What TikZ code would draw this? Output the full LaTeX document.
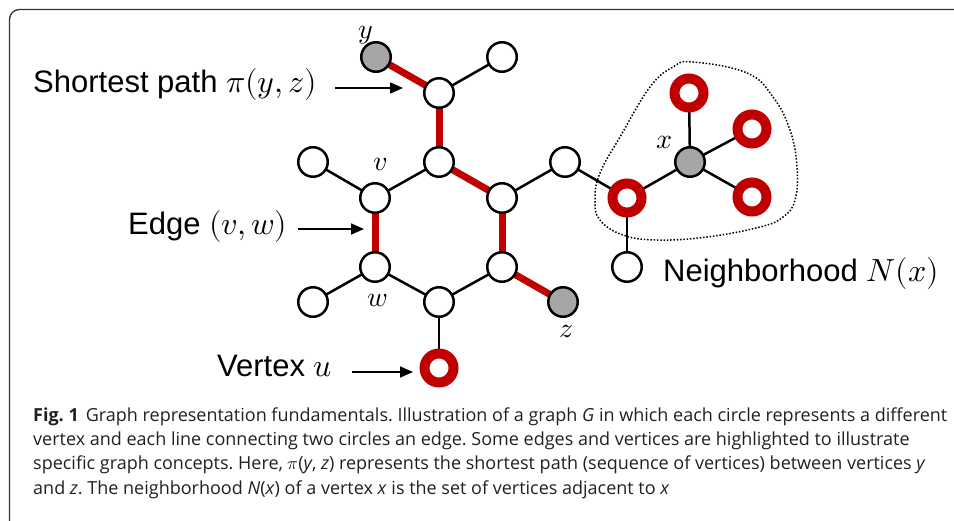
\documentclass[tikz,border=0pt]{standalone}
\usepackage{fontspec}
\usepackage{unicode-math}
\setmainfont{Liberation Sans}
\setmathfont{Latin Modern Math}
\newfontfamily\capfont{Open Sans}
\usetikzlibrary{arrows.meta,backgrounds}
\definecolor{hired}{HTML}{C00000}
\definecolor{vgray}{HTML}{A6A6A6}
\definecolor{captxt}{HTML}{231F20}
\frenchspacing
\begin{document}
\begin{tikzpicture}[x=1pt,y=-1pt,
 wnode/.style={circle,draw=black,fill=white,line width=2.5pt,minimum size=29.5pt,inner sep=0pt},
 gnode/.style={wnode,fill=vgray},
 rnode/.style={circle,draw=hired,fill=white,line width=10pt,minimum size=29pt,inner sep=0pt},
 bedge/.style={line width=2.5pt,black},
 redge/.style={line width=7pt,hired},
 mlab/.style={font=\fontsize{28}{30}\selectfont,inner sep=0pt},
 bigtxt/.style={font=\fontsize{31}{36}\selectfont,inner sep=0pt,anchor=base west},
 ptr/.style={line width=1.6pt,-{Triangle[length=13pt,width=11pt]}},
 capline/.style={font=\capfont\fontsize{18}{22}\selectfont,text=captxt,inner sep=0pt,anchor=base west}
]
\useasboundingbox (0,0) rectangle (954,521);
% frame
\draw[line width=1.3pt,black!80,rounded corners=10pt] (9.5,521) -- (9.5,9.5) -- (954,9.5);

% vertices
\node[gnode] (y) at (376,57) {};
\node[wnode] (a1) at (439,93) {};
\node[wnode] (t3) at (502,57) {};
\node[wnode] (a2) at (439,162) {};
\node[wnode] (v) at (375,198) {};
\node[wnode] (h1) at (502,198) {};
\node[wnode] (w) at (375,267) {};
\node[wnode] (h2) at (502,267) {};
\node[wnode] (bt) at (439,302) {};
\node[wnode] (o1) at (313,162) {};
\node[wnode] (o2) at (313,302) {};
\node[gnode] (z) at (563,302) {};
\node[rnode] (u) at (439,368) {};
\node[wnode] (ro) at (565,162) {};
\node[rnode] (n1) at (627,198) {};
\node[wnode] (bw) at (627,267) {};
\node[gnode] (x) at (690,162) {};
\node[rnode] (n2) at (689,93) {};
\node[rnode] (n3) at (752,129) {};
\node[rnode] (n4) at (752,197) {};

% edges
\begin{pgfonlayer}{background}
\draw[bedge] (a1.center) -- (t3.center);
\draw[bedge] (a2.center) -- (v.center);
\draw[bedge] (v.center) -- (o1.center);
\draw[bedge] (w.center) -- (o2.center);
\draw[bedge] (w.center) -- (bt.center);
\draw[bedge] (bt.center) -- (u.center);
\draw[bedge] (bt.center) -- (h2.center);
\draw[bedge] (h1.center) -- (ro.center);
\draw[bedge] (ro.center) -- (n1.center);
\draw[bedge] (n1.center) -- (x.center);
\draw[bedge] (n1.center) -- (bw.center);
\draw[bedge] (x.center) -- (n2.center);
\draw[bedge] (x.center) -- (n3.center);
\draw[bedge] (x.center) -- (n4.center);
\draw[redge] (y.center) -- (a1.center);
\draw[redge] (a1.center) -- (a2.center);
\draw[redge] (a2.center) -- (h1.center);
\draw[redge] (h1.center) -- (h2.center);
\draw[redge] (h2.center) -- (z.center);
\draw[redge] (v.center) -- (w.center);
\end{pgfonlayer}

% neighborhood outline
\draw[line width=1.5pt,dash pattern=on 1.5pt off 1.8pt] plot[smooth cycle,tension=0.7] coordinates {
 (693,62) (747,73) (773,97) (790,130) (797,167) (795,200) (783,217) (760,227)
 (707,237) (657,240) (623,235) (600,220) (595,200) (600,173) (620,137) (650,87) (673,67)};

% vertex labels
\node[mlab] (ly) at (366,35) {$y$};
\node[mlab] (lv) at (380,164) {$v$};
\node[mlab] (lw) at (378,300) {$w$};
\node[mlab] (lz) at (566,331) {$z$};
\node[mlab] (lx) at (665,142) {$x$};

% pointer labels
\node[bigtxt] (sp) at (33,93) {Shortest path {\fontsize{32}{36}\selectfont$\pi(y,z)$}};
\coordinate (sps) at (335,88);
\coordinate (spe) at (403,88);
\draw[ptr] (sps) -- (spe);

\node[bigtxt] (ed) at (128,235) {Edge {\fontsize{32}{36}\selectfont$(v,w)$}};
\coordinate (eds) at (298,229);
\coordinate (ede) at (364,229);
\draw[ptr] (eds) -- (ede);

\node[bigtxt] (vx) at (217,377) {Vertex {\fontsize{32}{36}\selectfont$u$}};
\coordinate (vxs) at (352,372);
\coordinate (vxe) at (413,372);
\draw[ptr] (vxs) -- (vxe);

\node[bigtxt] (nb) at (663,282) {Neighborhood {\fontsize{32}{36}\selectfont$N(x)$}};

% caption
\node[capline] (c1) at (33,422) {\textbf{Fig. 1}\hspace{7pt}Graph representation fundamentals. Illustration of a graph \textit{G} in which each circle represents a different};
\node[capline] (c2) at (33,446) {vertex and each line connecting two circles an edge. Some edges and vertices are highlighted to illustrate};
\node[capline] (c3) at (33,470) {specific graph concepts. Here, $\pi$(\textit{y}, \textit{z}) represents the shortest path (sequence of vertices) between vertices \textit{y}};
\node[capline] (c4) at (33,494) {and \textit{z}. The neighborhood \textit{N}(\textit{x}) of a vertex \textit{x} is the set of vertices adjacent to \textit{x}};
\end{tikzpicture}
\end{document}
